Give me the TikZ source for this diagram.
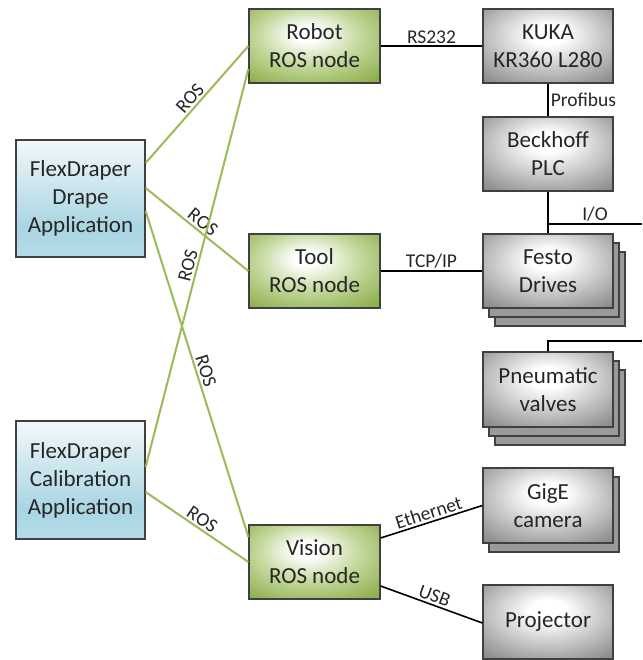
\documentclass[tikz,border=0pt]{standalone}
\usepackage{fontspec}
\setmainfont{Carlito}
\usetikzlibrary{calc}
\definecolor{grnline}{HTML}{9BBB59}
\definecolor{grnA}{HTML}{C2D79A}
\definecolor{grnB}{HTML}{8FB04E}
\definecolor{grayA}{HTML}{C4C4C4}
\definecolor{grayB}{HTML}{858585}
\definecolor{shadowgray}{HTML}{9A9A9A}
\definecolor{bluetop}{HTML}{F2F8FA}
\definecolor{blueA}{HTML}{A9D5E3}
\definecolor{bluebot}{HTML}{B5DBE7}
\definecolor{bordercol}{HTML}{404040}
\definecolor{txt}{HTML}{262626}
\pgfdeclareradialshading{greenrad}{\pgfpoint{-3bp}{9bp}}{color(0bp)=(white); color(5bp)=(white); color(20bp)=(grnA); color(36bp)=(grnB); color(70bp)=(grnB)}
\pgfdeclareradialshading{grayrad}{\pgfpoint{0bp}{9bp}}{color(0bp)=(white); color(7bp)=(white); color(22bp)=(grayA); color(38bp)=(grayB); color(70bp)=(grayB)}
\pgfdeclareverticalshading{bluevert}{100bp}{color(0bp)=(bluebot); color(25bp)=(bluebot); color(38bp)=(blueA); color(75bp)=(bluetop); color(100bp)=(bluetop)}
\tikzset{
  box/.style={draw=bordercol, line width=1.2pt, text=txt, align=center,
    font=\fontsize{23}{28}\selectfont, inner sep=0pt},
  appbox/.style={box, shading=bluevert, minimum width=129pt, minimum height=117pt},
  rosbox/.style={box, shading=greenrad, minimum width=131pt, minimum height=74pt},
  hwbox/.style={box, shading=grayrad, minimum width=130pt, minimum height=74pt},
  shadowbox/.style={draw=bordercol, line width=1.2pt, fill=shadowgray, minimum width=130pt, minimum height=74pt, inner sep=0pt},
  rosline/.style={draw=grnline, line width=2pt},
  hwline/.style={draw=black, line width=1.6pt},
  lbl/.style={font=\fontsize{19.5}{19.5}\selectfont, text=txt, inner sep=2pt},
}
\begin{document}
\begin{tikzpicture}[x=1pt,y=-1pt]
\useasboundingbox (0,0) rectangle (642,660);
\clip (0,0) rectangle (642,660);
% applications
\node[appbox] (drape) at (80.5,198.5) {FlexDraper\\Drape\\Application};
\node[appbox, minimum height=118pt] (calib) at (80.5,480) {FlexDraper\\Calibration\\Application};
% ROS nodes
\node[rosbox] (robot) at (314.5,46) {Robot\\ROS node};
\node[rosbox] (tool) at (314.5,271) {Tool\\ROS node};
\node[rosbox] (vision) at (314.5,562) {Vision\\ROS node};
% hardware
\node[hwbox] (kuka) at (548,46) {KUKA\\KR360 L280};
\node[hwbox] (beckhoff) at (548,154) {Beckhoff\\PLC};
\node[shadowbox] (festo3) at (560,289) {};
\node[shadowbox] (festo2) at (554,280) {};
\node[hwbox] (festo) at (548,271) {Festo\\Drives};
\node[shadowbox, minimum height=75pt] (pneu3) at (560,407.5) {};
\node[shadowbox, minimum height=75pt] (pneu2) at (554,398.5) {};
\node[hwbox, minimum height=75pt] (pneu) at (548,389.5) {Pneumatic\\valves};
\node[shadowbox, minimum height=75pt] (gige2) at (554,514.5) {};
\node[hwbox, minimum height=75pt] (gige) at (548,505.5) {GigE\\camera};
\node[hwbox] (proj) at (548,622) {Projector};
% ROS connections
\draw[rosline] ([yshift=35.5pt]drape.east) -- node[lbl, sloped, above] {ROS} (robot.west);
\draw[rosline] ([yshift=10.5pt]drape.east) -- node[lbl, sloped, above] {ROS} (tool.west);
\draw[rosline] ([yshift=-12.5pt]drape.east) -- node[lbl, sloped, above] {ROS} ([yshift=25pt]vision.west);
\draw[rosline] ([yshift=13pt]calib.east) -- node[lbl, sloped, above] {ROS} ([yshift=-23pt]robot.west);
\draw[rosline] ([yshift=-12pt]calib.east) -- node[lbl, sloped, above] {ROS} (vision.west);
% hardware connections
\draw[hwline] (robot.east) -- node[lbl, above] {RS232} (kuka.west);
\draw[hwline] (tool.east) -- node[lbl, above] {TCP/IP} (festo.west);
\draw[hwline] (kuka.south) -- node[lbl, right] {Profibus} (beckhoff.north);
\draw[hwline] (beckhoff.south) -- (festo.north);
\coordinate (iojoin) at (548,224);
\coordinate (ioend) at (642,224);
\draw[hwline] (iojoin) -- node[lbl, above] {I/O} (ioend);
\coordinate (pneuend) at (642,341);
\draw[hwline] (pneu.north) |- (pneuend);
\draw[hwline] ([yshift=24pt]vision.east) -- node[lbl, sloped, above] {Ethernet} (gige.west);
\draw[hwline] ([yshift=-24pt]vision.east) -- node[lbl, sloped, above] {USB} ([yshift=-1pt]proj.west);
\end{tikzpicture}
\end{document}
